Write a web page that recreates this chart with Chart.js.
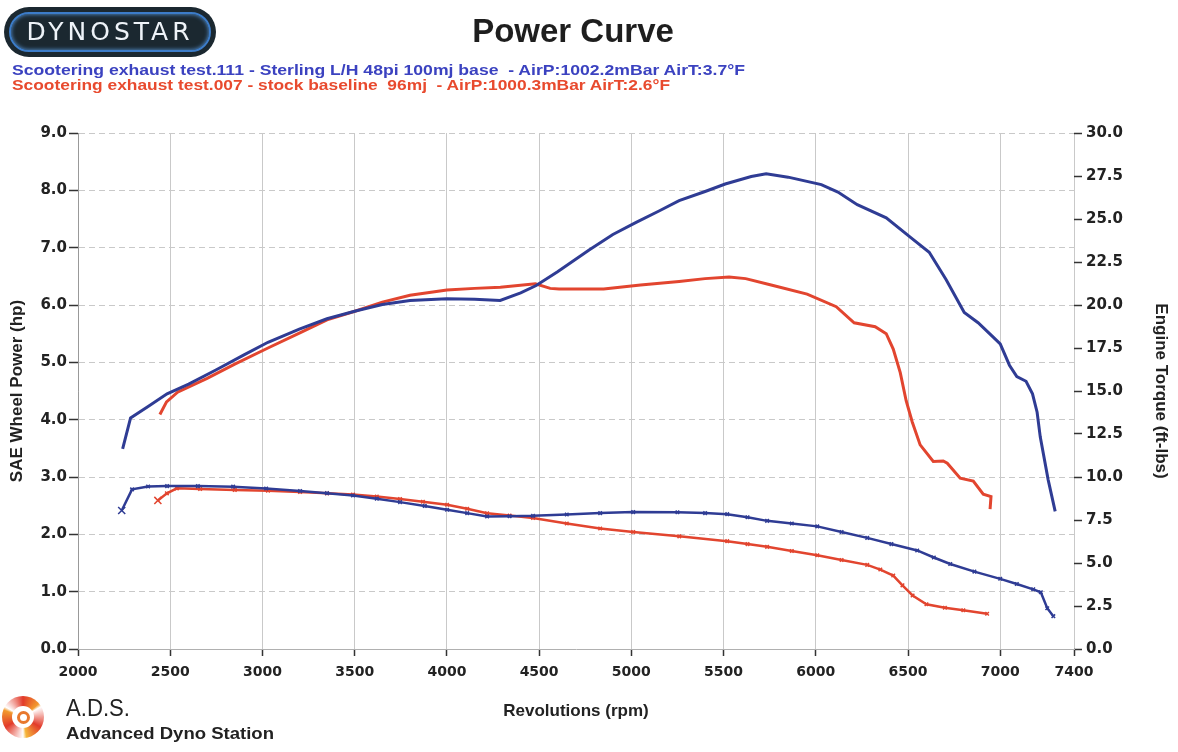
<!DOCTYPE html>
<html>
<head>
<meta charset="utf-8">
<script src="https://cdn.jsdelivr.net/npm/chart.js@4.4.1/dist/chart.umd.min.js"></script>
<style>
  html, body { margin: 0; padding: 0; background: #ffffff; }
  #wrap { position: relative; width: 1178px; height: 752px; overflow: hidden; font-family: "Liberation Sans", Arial, sans-serif; }
  #chart { position: absolute; left: 0; top: 0; }
  #logo { position: absolute; left: 4px; top: 7px; width: 212px; height: 50px; border-radius: 25px; background: #1b2830; }
  #logo .ring { position: absolute; left: 5px; top: 5px; right: 5px; bottom: 5px; border-radius: 20px; border: 2px solid #3c7cc8; box-shadow: 0 0 4px #5a9be0 inset; }
  #logo .txt { position: absolute; left: 0; right: 0; top: 10px; text-align: center; color: #eef3f8; font: 25px "DejaVu Sans", sans-serif; letter-spacing: 4px; }
  #title { position: absolute; left: 423px; width: 300px; top: 12px; text-align: center; font: bold 33px "Liberation Sans", Arial, sans-serif; color: #1e1e1e; }
  .fit { position: absolute; white-space: pre; transform-origin: 0 50%; }
  .leg { left: 12px; font: bold 15px "Liberation Sans", Arial, sans-serif; line-height: 15px; }
  #ads-icon { position: absolute; left: 2px; top: 696px; width: 42px; height: 42px; border-radius: 50%;
    background: conic-gradient(#e23a2a 0deg, #f29a2e 50deg, #fff 60deg, #e23a2a 120deg, #f5b53a 170deg, #fff 180deg, #e23a2a 240deg, #f29a2e 290deg, #fff 300deg, #e23a2a 360deg); }
  #ads-icon .hole { position: absolute; left: 10px; top: 10px; width: 22px; height: 22px; border-radius: 50%; background: #fff; }
  #ads-icon .dot { position: absolute; left: 15px; top: 15px; width: 7px; height: 7px; border-radius: 50%; border: 3px solid #e8782e; }
  #ads1 { left: 66px; top: 696px; font: 23px "Liberation Sans", Arial, sans-serif; color: #222; line-height: 24px; }
  #ads2 { left: 66px; top: 725px; font: bold 16px "Liberation Sans", Arial, sans-serif; color: #222; line-height: 18px; }
</style>
</head>
<body>
<div id="wrap">
  <canvas id="chart" width="1178" height="752"></canvas>
  <div id="logo"><div class="ring"></div><div class="txt">DYNOSTAR</div></div>
  <div id="title">Power Curve</div>
  <div id="leg1" class="fit leg" data-w="733" style="top:62px"></div>
  <div id="leg2" class="fit leg" data-w="658" style="top:77px"></div>
  <div id="ads-icon"><div class="hole"></div><div class="dot"></div></div>
  <div id="ads1" class="fit" data-w="64">A.D.S.</div>
  <div id="ads2" class="fit" data-w="208">Advanced Dyno Station</div>
</div>
<script>
// ---------- data ----------
const rpmTicks = [2000, 2500, 3000, 3500, 4000, 4500, 5000, 5500, 6000, 6500, 7000, 7400];

const run111Label = "Scootering exhaust test.111 - Sterling L/H 48pi 100mj base  - AirP:1002.2mBar AirT:3.7\u00B0F";
const run007Label = "Scootering exhaust test.007 - stock baseline  96mj  - AirP:1000.3mBar AirT:2.6\u00B0F";

// [rpm, hp]
const run111Power = [
  [2242,3.49],[2285,4.03],[2380,4.23],[2483,4.45],[2600,4.62],[2750,4.87],[2900,5.13],[3030,5.35],
  [3200,5.58],[3350,5.76],[3510,5.90],[3650,6.01],[3800,6.08],[4000,6.11],[4150,6.10],[4289,6.08],
  [4400,6.21],[4484,6.34],[4600,6.58],[4771,6.96],[4900,7.23],[5026,7.44],[5150,7.64],[5259,7.82],
  [5400,7.98],[5509,8.11],[5650,8.24],[5731,8.29],[5850,8.23],[6030,8.10],[6120,7.97],[6225,7.75],
  [6382,7.52],[6517,7.17],[6615,6.92],[6707,6.44],[6805,5.87],[6880,5.69],[6962,5.44],[7000,5.32],
  [7050,4.95],[7090,4.75],[7140,4.67],[7175,4.45],[7200,4.13],[7217,3.70],[7260,2.95],[7298,2.40]
];
const run007Power = [
  [2444,4.09],[2480,4.31],[2540,4.48],[2700,4.72],[2850,4.97],[3030,5.25],[3200,5.51],[3350,5.74],
  [3510,5.90],[3650,6.05],[3800,6.17],[4000,6.26],[4150,6.29],[4290,6.31],[4480,6.37],[4560,6.29],
  [4608,6.28],[4850,6.28],[5050,6.35],[5259,6.41],[5400,6.46],[5530,6.49],[5620,6.46],[5758,6.35],
  [5953,6.19],[6111,5.97],[6208,5.69],[6322,5.62],[6382,5.50],[6420,5.23],[6458,4.82],[6490,4.33],
  [6523,3.96],[6566,3.56],[6637,3.27],[6691,3.28],[6713,3.24],[6783,2.98],[6854,2.93],[6908,2.70],
  [6950,2.66],[6945,2.44]
];
// [rpm, ft-lbs]
const run111Torque = [
  [2237,8.05],[2293,9.28],[2380,9.45],[2483,9.47],[2650,9.47],[2841,9.44],[3020,9.33],[3204,9.19],
  [3350,9.06],[3491,8.92],[3620,8.74],[3746,8.54],[3880,8.32],[4001,8.10],[4110,7.90],[4218,7.71],
  [4340,7.72],[4467,7.74],[4650,7.82],[4831,7.90],[5010,7.96],[5250,7.95],[5400,7.90],[5520,7.84],
  [5630,7.66],[5736,7.45],[5870,7.30],[6008,7.13],[6140,6.80],[6279,6.46],[6410,6.10],[6550,5.73],
  [6640,5.32],[6729,4.94],[6860,4.50],[7000,4.08],[7090,3.78],[7179,3.47],[7220,3.30],[7255,2.37],
  [7288,1.91]
];
const run007Torque = [
  [2433,8.64],[2482,9.05],[2536,9.34],[2662,9.30],[2850,9.25],[3030,9.20],[3204,9.13],[3350,9.05],
  [3491,8.98],[3620,8.86],[3746,8.72],[3870,8.56],[4001,8.39],[4110,8.15],[4218,7.89],[4340,7.76],
  [4467,7.62],[4650,7.30],[4831,7.01],[5010,6.80],[5260,6.55],[5520,6.27],[5630,6.10],[5736,5.94],
  [5870,5.70],[6008,5.45],[6140,5.17],[6279,4.89],[6350,4.62],[6420,4.27],[6470,3.70],[6525,3.11],
  [6600,2.60],[6700,2.40],[6800,2.25],[6929,2.05]
];

const blue = "#2f3c94";
const red = "#e2452f";

// ---------- header / footer text ----------
document.getElementById("leg1").textContent = run111Label;
document.getElementById("leg1").style.color = "#3b42c0";
document.getElementById("leg2").textContent = run007Label;
document.getElementById("leg2").style.color = "#e84a2e";
document.querySelectorAll(".fit").forEach(el => {
  const w = el.getBoundingClientRect().width;
  const target = parseFloat(el.dataset.w);
  if (w > 0) el.style.transform = "scaleX(" + (target / w) + ")";
});

// ---------- chart ----------
const toXY = arr => arr.map(p => ({ x: p[0], y: p[1] }));
const FONT = '"Liberation Sans", Arial, sans-serif';
const TICKFONT = '"DejaVu Sans", "Liberation Sans", sans-serif';
Chart.defaults.font.family = FONT;

const markerRadius = ctx => (ctx.dataIndex === 0 ? 5 : 2.5);

new Chart(document.getElementById("chart"), {
  type: "line",
  data: {
    datasets: [
      { label: run111Label + " (power)", data: toXY(run111Power), yAxisID: "y",
        borderColor: blue, borderWidth: 3, pointRadius: 0, tension: 0, fill: false },
      { label: run007Label + " (power)", data: toXY(run007Power), yAxisID: "y",
        borderColor: red, borderWidth: 3, pointRadius: 0, tension: 0, fill: false },
      { label: run111Label + " (torque)", data: toXY(run111Torque), yAxisID: "y2",
        borderColor: blue, borderWidth: 2.5, tension: 0, fill: false,
        pointStyle: "crossRot", pointRadius: markerRadius, pointBorderWidth: 1.5,
        pointBorderColor: blue, pointBackgroundColor: blue },
      { label: run007Label + " (torque)", data: toXY(run007Torque), yAxisID: "y2",
        borderColor: red, borderWidth: 2.5, tension: 0, fill: false,
        pointStyle: "crossRot", pointRadius: markerRadius, pointBorderWidth: 1.5,
        pointBorderColor: red, pointBackgroundColor: red }
    ]
  },
  options: {
    responsive: false,
    animation: false,
    layout: { padding: { top: 133, left: 0, right: 0, bottom: 0 } },
    plugins: { legend: { display: false }, tooltip: { enabled: false }, title: { display: false } },
    scales: {
      x: {
        type: "linear", position: "bottom", min: 2000, max: 7400,
        afterBuildTicks: s => { s.ticks = rpmTicks.map(v => ({ value: v })); },
        afterFit: s => { s.height = 103; },
        ticks: { autoSkip: false, maxRotation: 0, padding: 8, color: "#222",
                 font: { family: TICKFONT, size: 14, weight: "bold" }, callback: v => String(v) },
        grid: { color: "#c9c9c9", lineWidth: 1, tickColor: "#333", tickLength: 7, tickWidth: 1.5 },
        border: { display: true, color: "#b0b0b0" },
        title: { display: true, text: "Revolutions (rpm)", color: "#222",
                 font: { size: 17, weight: "bold" }, padding: { top: 0, bottom: 30 } }
      },
      y: {
        type: "linear", position: "left", min: 0, max: 9,
        afterFit: s => { s.width = 78; },
        ticks: { stepSize: 1, padding: 2, color: "#222", font: { family: TICKFONT, size: 15, weight: "bold" },
                 callback: v => Number(v).toFixed(1) },
        grid: { color: "#c9c9c9", lineWidth: 1, tickColor: "#333", tickLength: 9, tickWidth: 1.5, borderDash: [6, 4] },
        border: { display: true, color: "#999", dash: [6, 4] },
        title: { display: true, text: "SAE Wheel Power (hp)", color: "#222",
                 font: { size: 17, weight: "bold" }, padding: { top: 7, bottom: 0 } }
      },
      y2: {
        type: "linear", position: "right", min: 0, max: 30,
        afterFit: s => { s.width = 104; },
        ticks: { stepSize: 2.5, padding: 4, color: "#222", font: { family: TICKFONT, size: 15, weight: "bold" },
                 callback: v => Number(v).toFixed(1) },
        grid: { drawOnChartArea: false, tickColor: "#333", tickLength: 8, tickWidth: 1.5 },
        border: { display: false },
        title: { display: true, text: "Engine Torque (ft-lbs)", color: "#222",
                 font: { size: 17, weight: "bold" }, padding: { top: 7, bottom: 0 } }
      }
    }
  }
});
</script>
</body>
</html>
